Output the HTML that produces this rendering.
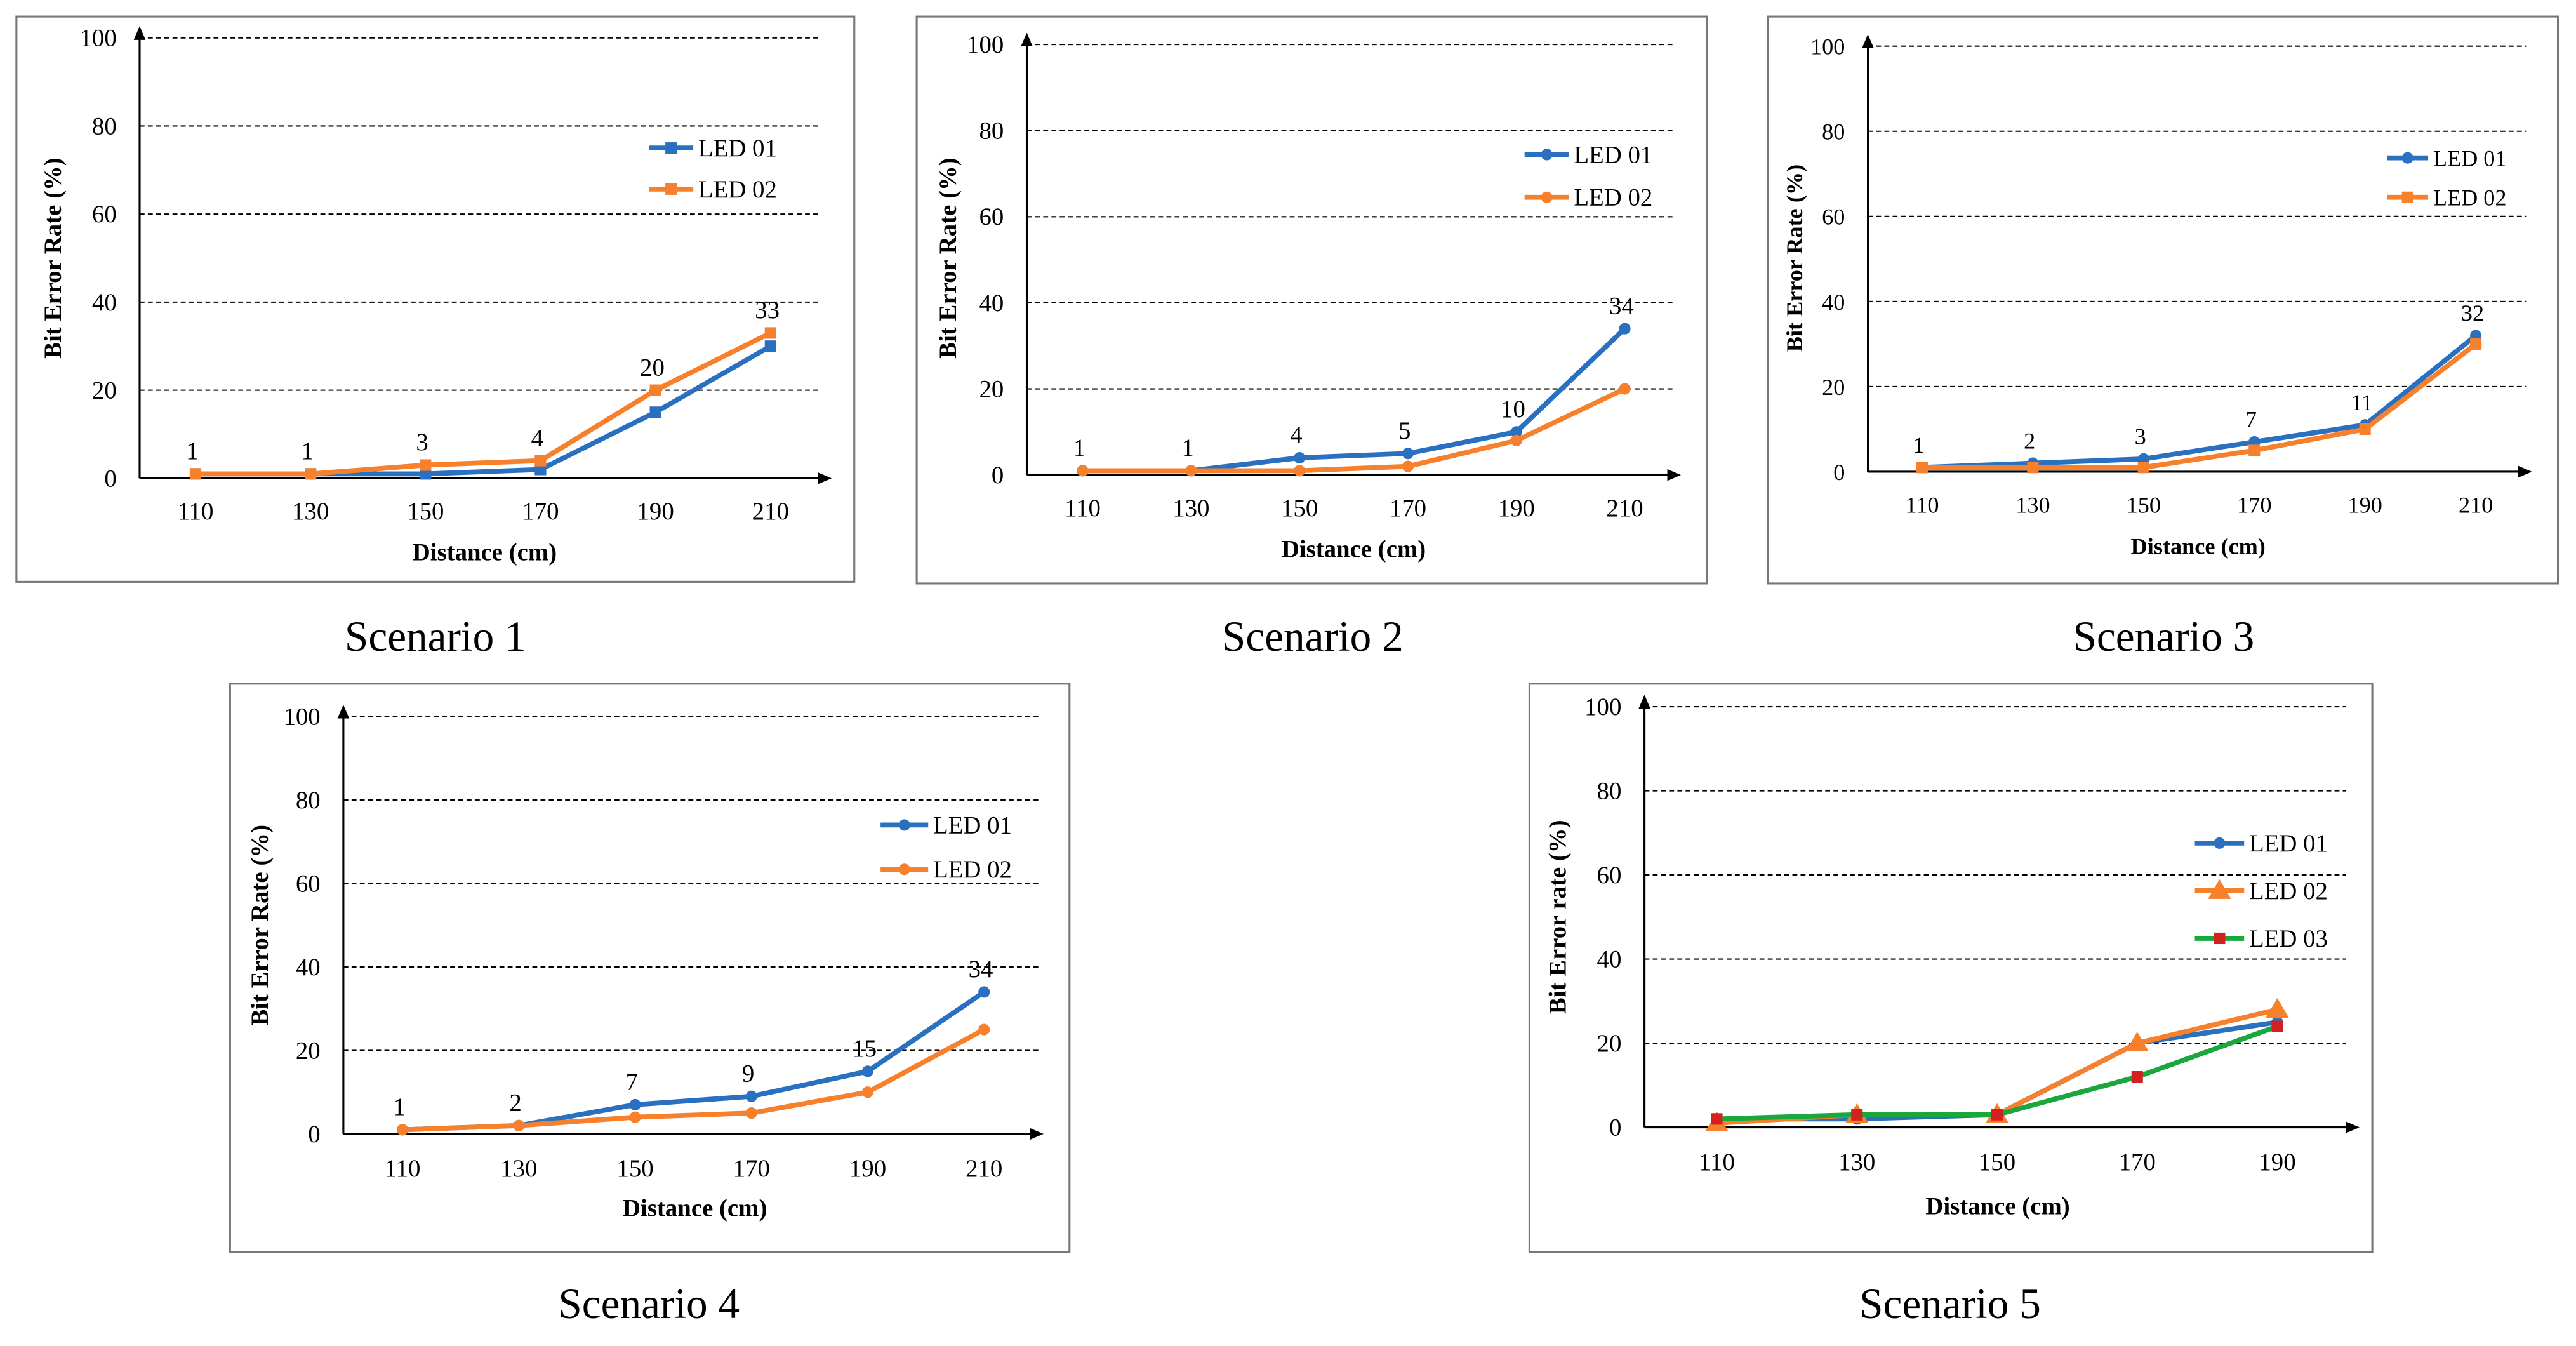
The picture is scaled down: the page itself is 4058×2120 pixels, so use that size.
<!DOCTYPE html>
<html><head><meta charset="utf-8"><style>
html,body{margin:0;padding:0;background:#fff;}
svg{display:block;font-family:"Liberation Serif",serif;}
</style></head><body>
<svg id="root" width="4058" height="2120" viewBox="0 0 1568 819" xmlns="http://www.w3.org/2000/svg">
<defs>
<marker id="arr" markerWidth="8" markerHeight="8" refX="6" refY="4" orient="auto"><path d="M0,1 L7,4 L0,7 Z" fill="#000"/></marker>
</defs>
</svg>
<script>
const categories6 = [110,130,150,170,190,210];
const categories5 = [110,130,150,170,190];
const yTicks = [0,20,40,60,80,100];
const s1Led01 = [1,1,1,2,15,30];
const s1Led02 = [1,1,3,4,20,33];
const s1Labels = [1,1,3,4,20,33];
const s2Led01 = [1,1,4,5,10,34];
const s2Led02 = [1,1,1,2,8,20];
const s2Labels = [1,1,4,5,10,34];
const s3Led01 = [1,2,3,7,11,32];
const s3Led02 = [1,1,1,5,10,30];
const s3Labels = [1,2,3,7,11,32];
const s4Led01 = [1,2,7,9,15,34];
const s4Led02 = [1,2,4,5,10,25];
const s4Labels = [1,2,7,9,15,34];
const s5Led01 = [2,2,3,20,25];
const s5Led02 = [1,3,3,20,28];
const s5Led03 = [2,3,3,12,24];

const BLUE="#2a70c0", ORANGE="#f6802c", GREEN="#1aa83c";
const NS="http://www.w3.org/2000/svg";
const root=document.getElementById('root');
function mk(tag,attrs,parent,text){const e=document.createElementNS(NS,tag);for(const k in attrs)e.setAttribute(k,attrs[k]);if(text!==undefined)e.textContent=text;(parent||root).appendChild(e);return e;}

const charts=[
 {id:1,frame:[10,10,510,344],ax:85,y0:291,y100:23,cx0:119,dx:70,xEnd:505,gridEnd:500,lblY:311,titleX:295,titleY:336,ytX:32,ytY:157,ytText:"Bit Error Rate (%)",
  legend:[[395,90],[395,115]],legW:27,cats:categories6,series:[[s1Led01,BLUE,'square','LED 01'],[s1Led02,ORANGE,'square','LED 02']],labels:s1Labels,labelSeries:1,cap:"Scenario 1",capX:265,capY:396,fs:15,lfs:15},
 {id:2,frame:[558,10,481,345],ax:625,y0:289,y100:27,cx0:659,dx:66,xEnd:1022,gridEnd:1020,lblY:309,titleX:824,titleY:334,ytX:577,ytY:157,ytText:"Bit Error Rate (%)",
  legend:[[928,94],[928,120]],legW:27,cats:categories6,series:[[s2Led01,BLUE,'circle','LED 01'],[s2Led02,ORANGE,'circle','LED 02']],labels:s2Labels,labelSeries:0,cap:"Scenario 2",capX:799,capY:396,fs:15,lfs:15},
 {id:3,frame:[1076,10,481,345],ax:1137,y0:287,y100:28,cx0:1170,dx:67.4,xEnd:1540,gridEnd:1538,lblY:307,titleX:1338,titleY:332,ytX:1092,ytY:157,ytText:"Bit Error Rate (%)",
  legend:[[1453,96],[1453,120]],legW:25,cats:categories6,series:[[s3Led01,BLUE,'circle','LED 01'],[s3Led02,ORANGE,'square','LED 02']],labels:s3Labels,labelSeries:0,cap:"Scenario 3",capX:1317,capY:396,fs:14,lfs:14},
 {id:4,frame:[140,416,511,346],ax:209,y0:690,y100:436,cx0:245,dx:70.8,xEnd:634,gridEnd:632,lblY:711,titleX:423,titleY:735,ytX:158,ytY:563,ytText:"Bit Error Rate (%)",
  legend:[[536,502],[536,529]],legW:29,cats:categories6,series:[[s4Led01,BLUE,'circle','LED 01'],[s4Led02,ORANGE,'circle','LED 02']],labels:s4Labels,labelSeries:0,cap:"Scenario 4",capX:395,capY:802,fs:15,lfs:15},
 {id:5,frame:[931,416,513,346],ax:1001,y0:686,y100:430,cx0:1045,dx:85.3,xEnd:1435,gridEnd:1428,lblY:707,titleX:1216,titleY:734,ytX:948,ytY:558,ytText:"Bit  Error  rate (%)",
  legend:[[1336,513],[1336,542],[1336,571]],legW:30,cats:categories5,series:[[s5Led01,BLUE,'circle','LED 01'],[s5Led02,ORANGE,'triangle','LED 02'],[s5Led03,GREEN,'redsq','LED 03']],labels:null,cap:"Scenario 5",capX:1187,capY:802,fs:15,lfs:15},
];

function marker(g,type,x,y,color){
  let m;
  if(type==='square') m=mk('rect',{x:x-3.5,y:y-3.5,width:7,height:7,fill:color},g);
  else if(type==='circle') m=mk('circle',{cx:x,cy:y,r:3.5,fill:color},g);
  else if(type==='triangle') m=mk('path',{d:`M${x},${y-7} L${x+7},${y+5} L${x-7},${y+5} Z`,fill:color},g);
  else m=mk('rect',{x:x-3.5,y:y-3.5,width:7,height:7,fill:'#d32020'},g);
  
  
}

charts.forEach(c=>{
  const g=mk('g',{});
  
  
  const xS=i=>c.cx0+i*c.dx;
  const yS=v=>c.y0-(v/100)*(c.y0-c.y100);
  const fr=mk('rect',{x:c.frame[0],y:c.frame[1],width:c.frame[2],height:c.frame[3],fill:'#fff',stroke:'#777','stroke-width':1.2},g);
  
  
  yTicks.forEach(t=>{
    const y=yS(t);
    if(t>0){const gl=mk('line',{x1:c.ax,x2:c.gridEnd,y1:y,y2:y,stroke:'#000','stroke-width':0.8,'stroke-dasharray':'3,2'},g);
      
      }
    const tl=mk('text',{x:c.ax-14,y:y+5,'text-anchor':'end','font-size':c.fs},g,t);
    
    
  });
  const ya=mk('line',{x1:c.ax,x2:c.ax,y1:c.y0,y2:c.y100-6,stroke:'#000','stroke-width':1.2,'marker-end':'url(#arr)'},g);
  
  
  const xa=mk('line',{x1:c.ax,x2:c.xEnd,y1:c.y0,y2:c.y0,stroke:'#000','stroke-width':1.2,'marker-end':'url(#arr)'},g);
  
  
  c.cats.forEach((cat,i)=>{
    const tl=mk('text',{x:xS(i),y:c.lblY+5,'text-anchor':'middle','font-size':c.fs},g,cat);
    
    
  });
  const xt=mk('text',{x:c.titleX,y:c.titleY+5,'text-anchor':'middle','font-size':c.fs,'font-weight':'bold'},g,'Distance (cm)');
  
  
  const yt=mk('text',{x:0,y:0,transform:`translate(${c.ytX+5},${c.ytY}) rotate(-90)`,'text-anchor':'middle','font-size':c.fs,'font-weight':'bold'},g,c.ytText);
  
  
  c.series.forEach((s,si)=>{
    const [vals,color,mt,name]=s;
    const pts=vals.map((v,i)=>xS(i)+','+yS(v)).join(' ');
    const pl=mk('polyline',{points:pts,fill:'none',stroke:color,'stroke-width':3,'stroke-linejoin':'round'},g);
    
    
    vals.forEach((v,i)=>marker(g,mt,xS(i),yS(v),color));
    const [lx,ly]=c.legend[si];
    const lg=mk('g',{},g);
    
    
    mk('line',{x1:lx,x2:lx+c.legW,y1:ly,y2:ly,stroke:color,'stroke-width':3},lg);
    marker(lg,mt,lx+c.legW/2,ly,color);
    mk('text',{x:lx+c.legW+3,y:ly+5,'font-size':c.lfs},lg,name);
  });
  if(c.labels){
    const sv=c.series[c.labelSeries][0];
    c.labels.forEach((l,i)=>{
      const t=mk('text',{x:xS(i)-2,y:yS(sv[i])-9,'text-anchor':'middle','font-size':c.fs},g,l);
      
      
    });
  }
  const cap=mk('text',{x:c.capX,y:c.capY,'text-anchor':'middle','font-size':26},g,c.cap);
  
  
});
</script>
</body></html>
